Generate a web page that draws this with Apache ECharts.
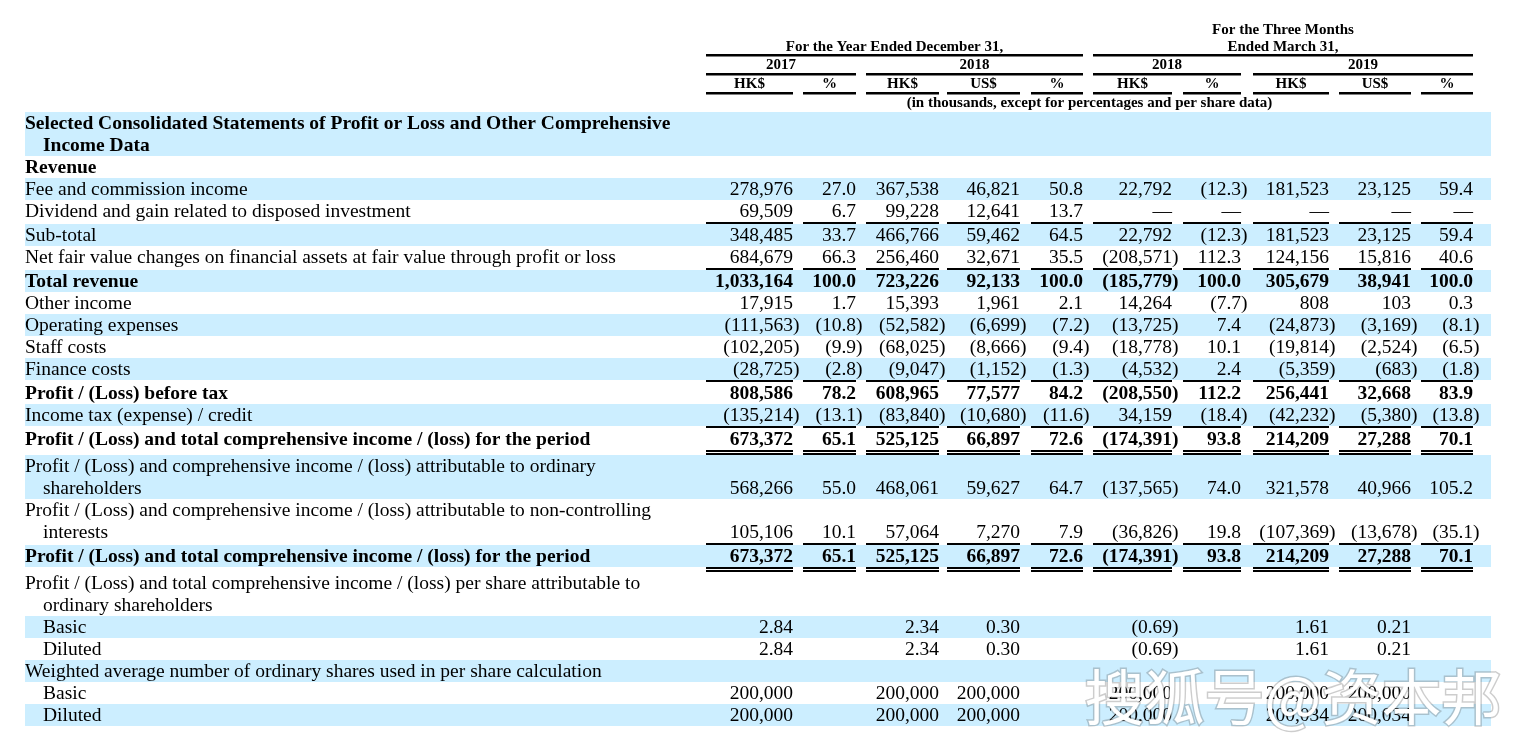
<!DOCTYPE html>
<html><head><meta charset="utf-8">
<script src="https://cdn.jsdelivr.net/npm/echarts@6/dist/echarts.min.js"></script>
<style>html,body{margin:0;padding:0;background:#fff;overflow:hidden}#c{width:1522px;height:741px}</style>
</head><body><div id="c"></div>
<script>
// ---------------- DATA ----------------
const rowLabels = [
  ['Selected Consolidated Statements of Profit or Loss and Other Comprehensive', 'Income Data'],
  ['Revenue'],
  ['Fee and commission income'],
  ['Dividend and gain related to disposed investment'],
  ['Sub-total'],
  ['Net fair value changes on financial assets at fair value through profit or loss'],
  ['Total revenue'],
  ['Other income'],
  ['Operating expenses'],
  ['Staff costs'],
  ['Finance costs'],
  ['Profit / (Loss) before tax'],
  ['Income tax (expense) / credit'],
  ['Profit / (Loss) and total comprehensive income / (loss) for the period'],
  ['Profit / (Loss) and comprehensive income / (loss) attributable to ordinary', 'shareholders'],
  ['Profit / (Loss) and comprehensive income / (loss) attributable to non-controlling', 'interests'],
  ['Profit / (Loss) and total comprehensive income / (loss) for the period'],
  ['Profit / (Loss) and total comprehensive income / (loss) per share attributable to', 'ordinary shareholders'],
  ['Basic'],
  ['Diluted'],
  ['Weighted average number of ordinary shares used in per share calculation'],
  ['Basic'],
  ['Diluted']
];
const boldRows = [0, 1, 6, 11, 13, 16];
const indentRows = [18, 19, 21, 22];
const epsRows = [18, 19];

const hk2017   = [null, null, 278976, 69509, 348485, 684679, 1033164, 17915, -111563, -102205, -28725, 808586, -135214, 673372, 568266, 105106, 673372, null, 2.84, 2.84, null, 200000, 200000];
const pct2017  = [null, null, 27.0, 6.7, 33.7, 66.3, 100.0, 1.7, -10.8, -9.9, -2.8, 78.2, -13.1, 65.1, 55.0, 10.1, 65.1, null, null, null, null, null, null];
const hk2018   = [null, null, 367538, 99228, 466766, 256460, 723226, 15393, -52582, -68025, -9047, 608965, -83840, 525125, 468061, 57064, 525125, null, 2.34, 2.34, null, 200000, 200000];
const us2018   = [null, null, 46821, 12641, 59462, 32671, 92133, 1961, -6699, -8666, -1152, 77577, -10680, 66897, 59627, 7270, 66897, null, 0.30, 0.30, null, 200000, 200000];
const pct2018  = [null, null, 50.8, 13.7, 64.5, 35.5, 100.0, 2.1, -7.2, -9.4, -1.3, 84.2, -11.6, 72.6, 64.7, 7.9, 72.6, null, null, null, null, null, null];
const hkQ2018  = [null, null, 22792, 0, 22792, -208571, -185779, 14264, -13725, -18778, -4532, -208550, 34159, -174391, -137565, -36826, -174391, null, -0.69, -0.69, null, 200000, 200000];
const pctQ2018 = [null, null, -12.3, 0, -12.3, 112.3, 100.0, -7.7, 7.4, 10.1, 2.4, 112.2, -18.4, 93.8, 74.0, 19.8, 93.8, null, null, null, null, null, null];
const hkQ2019  = [null, null, 181523, 0, 181523, 124156, 305679, 808, -24873, -19814, -5359, 256441, -42232, 214209, 321578, -107369, 214209, null, 1.61, 1.61, null, 200000, 200034];
const usQ2019  = [null, null, 23125, 0, 23125, 15816, 38941, 103, -3169, -2524, -683, 32668, -5380, 27288, 40966, -13678, 27288, null, 0.21, 0.21, null, 200000, 200034];
const pctQ2019 = [null, null, 59.4, 0, 59.4, 40.6, 100.0, 0.3, -8.1, -6.5, -1.8, 83.9, -13.8, 70.1, 105.2, -35.1, 70.1, null, null, null, null, null, null];

const columns = [hk2017, pct2017, hk2018, us2018, pct2018, hkQ2018, pctQ2018, hkQ2019, usQ2019, pctQ2019];
const colHeads = ['HK$', '%', 'HK$', 'US$', '%', 'HK$', '%', 'HK$', 'US$', '%'];
const pctCols = [1, 4, 6, 9];
const yearHeads = ['2017', '2018', '2018', '2019'];
const yearSpans = [[0, 1], [2, 4], [5, 6], [7, 9]];
const periodHeads = [['For the Year Ended December 31,'], ['For the Three Months', 'Ended March 31,']];
const periodSpans = [[0, 4], [5, 9]];
const unitNote = '(in thousands, except for percentages and per share data)';
// rule drawn above a row: 1 = single, 2 = double
const rulesAbove = {4: 1, 6: 1, 11: 1, 13: 1, 14: 2, 16: 1, 17: 2};
const watermark = '搜狐号@资本邦';

// ---------------- LAYOUT ----------------
const colLeft  = [706, 803, 866, 947, 1031, 1093, 1183, 1253, 1339, 1421];
const colRight = [793, 856, 939, 1020, 1083, 1172, 1241, 1329, 1411, 1473];
const tableLeft = 25, tableRight = 1491, indentX = 43;
const lineH = 22, bodyTop = 112, textShift = 1;
const BLUE = '#CCEEFF';
const FONT = '"Liberation Serif", "Times New Roman", serif';
const BODY_PX = 19.5, HEAD_PX = 15;

const rowTop = [], rowBottom = [], ruleY = {};
(function () {
  let y = bodyTop;
  rowLabels.forEach((lines, r) => {
    if (rulesAbove[r]) { ruleY[r] = y; y += rulesAbove[r] === 2 ? 5 : 2; }
    rowTop[r] = y;
    y += lines.length * lineH;
    rowBottom[r] = y;
  });
})();

function bodyFont(bold) { return (bold ? 'bold ' : '') + BODY_PX + 'px ' + FONT; }
const mctx = document.createElement('canvas').getContext('2d');
function parenW(bold) {
  mctx.font = bodyFont(bold);
  return mctx.measureText(')').width;
}

function fmt(v, c, r) {
  if (v === null || v === undefined) return null;
  if (v === 0) return '\u2014';
  const dec = epsRows.includes(r) ? 2 : (pctCols.includes(c) ? 1 : 0);
  const s = Math.abs(v).toLocaleString('en-US', {minimumFractionDigits: dec, maximumFractionDigits: dec});
  return v < 0 ? '(' + s + ')' : s;
}

function txt(x, y, text, font, align) {
  return {type: 'text', style: {x: x, y: y, text: text, font: font, fill: '#000',
    align: align, textAlign: align, verticalAlign: 'middle', textVerticalAlign: 'middle'}};
}

// data for series
const bandData = rowLabels.map((l, r) => r).filter(r => r % 2 === 0);
const labelData = rowLabels.map((l, r) => r);
const cellData = [];
columns.forEach((col, c) => col.forEach((v, r) => { if (v !== null) cellData.push([c, r, v]); }));
const ruleData = [];
Object.keys(rulesAbove).forEach(r => { for (let c = 0; c < 10; c++) ruleData.push([c, +r, rulesAbove[r]]); });

const headData = [];
periodHeads.forEach((lines, i) => headData.push({kind: 'period', i: i}));
yearHeads.forEach((t, i) => headData.push({kind: 'year', i: i}));
colHeads.forEach((t, i) => headData.push({kind: 'col', i: i}));
headData.push({kind: 'note'});

const HFONT = 'bold ' + HEAD_PX + 'px ' + FONT;

const chart = echarts.init(document.getElementById('c'), null, {renderer: 'canvas'});
chart.setOption({
  backgroundColor: '#fff',
  animation: false,
  grid: {left: 0, right: 0, top: 0, bottom: 0},
  xAxis: {type: 'value', min: 0, max: 1522, show: false},
  yAxis: {type: 'value', min: 0, max: 741, inverse: true, show: false},
  series: [
    { // bands
      type: 'custom', silent: true, data: bandData,
      renderItem: (p, api) => {
        const r = api.value(0);
        const a = api.coord([tableLeft, rowTop[r]]), b = api.coord([tableRight, rowBottom[r]]);
        return {type: 'rect', shape: {x: a[0], y: a[1], width: b[0] - a[0], height: b[1] - a[1]}, style: {fill: BLUE}};
      }
    },
    { // row labels
      type: 'custom', silent: true, data: labelData,
      renderItem: (p, api) => {
        const r = api.value(0);
        const font = bodyFont(boldRows.includes(r));
        const children = rowLabels[r].map((line, i) => {
          const x = (i > 0 || indentRows.includes(r)) ? indentX : tableLeft;
          const pt = api.coord([x, rowTop[r] + lineH / 2 + i * lineH + textShift]);
          return txt(pt[0], pt[1], line, font, 'left');
        });
        return {type: 'group', children: children};
      }
    },
    { // value cells
      type: 'custom', silent: true, data: cellData,
      renderItem: (p, api) => {
        const c = api.value(0), r = api.value(1), v = api.value(2);
        const bold = boldRows.includes(r);
        const text = fmt(v, c, r);
        const hang = v < 0 ? parenW(bold) : 0;
        const pt = api.coord([colRight[c] + hang, rowBottom[r] - lineH / 2 + textShift]);
        return txt(pt[0], pt[1], text, bodyFont(bold), 'right');
      }
    },
    { // rules under numbers
      type: 'custom', silent: true, data: ruleData,
      renderItem: (p, api) => {
        const c = api.value(0), r = api.value(1), kind = api.value(2);
        const y = ruleY[r];
        const a = api.coord([colLeft[c], y]), b = api.coord([colRight[c], y]);
        const w = b[0] - a[0];
        const ch = [{type: 'rect', shape: {x: a[0], y: a[1], width: w, height: 2}, style: {fill: '#000'}}];
        if (kind === 2) ch.push({type: 'rect', shape: {x: a[0], y: a[1] + 3, width: w, height: 2}, style: {fill: '#000'}});
        return {type: 'group', children: ch};
      }
    },
    { // header
      type: 'custom', silent: true, data: headData.map((d, i) => i),
      renderItem: (p, api) => {
        const d = headData[api.value(0)];
        const ch = [];
        const rule = (l, r, y) => {
          const a = api.coord([colLeft[l], y]), b = api.coord([colRight[r], y]);
          ch.push({type: 'rect', shape: {x: a[0], y: a[1], width: b[0] - a[0], height: 2.5}, style: {fill: '#000'}});
        };
        if (d.kind === 'period') {
          const [l, r] = periodSpans[d.i];
          const lines = periodHeads[d.i];
          lines.forEach((t, k) => {
            const pt = api.coord([(colLeft[l] + colRight[r]) / 2, 47 - (lines.length - 1 - k) * 17]);
            ch.push(txt(pt[0], pt[1], t, HFONT, 'center'));
          });
          rule(l, r, 54);
        } else if (d.kind === 'year') {
          const [l, r] = yearSpans[d.i];
          const pt = api.coord([(colLeft[l] + colRight[r]) / 2, 65.5]);
          ch.push(txt(pt[0], pt[1], yearHeads[d.i], HFONT, 'center'));
          rule(l, r, 73);
        } else if (d.kind === 'col') {
          const i = d.i;
          const pt = api.coord([(colLeft[i] + colRight[i]) / 2, 84.5]);
          ch.push(txt(pt[0], pt[1], colHeads[i], HFONT, 'center'));
          rule(i, i, 92);
        } else {
          const pt = api.coord([(colLeft[0] + colRight[9]) / 2, 103.5]);
          ch.push(txt(pt[0], pt[1], unitNote, HFONT, 'center'));
        }
        return {type: 'group', children: ch};
      }
    }
  ],
  graphic: [{
    type: 'text', x: 1293, y: 697, z: 100, silent: true,
    style: {text: watermark, font: '60px "Noto Sans CJK SC"', fill: '#ffffff',
      stroke: 'rgba(90,90,90,0.3)', lineWidth: 3, strokeFirst: true,
      align: 'center', verticalAlign: 'middle',
      shadowColor: 'rgba(0,0,0,0.35)', shadowBlur: 4}
  }]
});
</script></body></html>
